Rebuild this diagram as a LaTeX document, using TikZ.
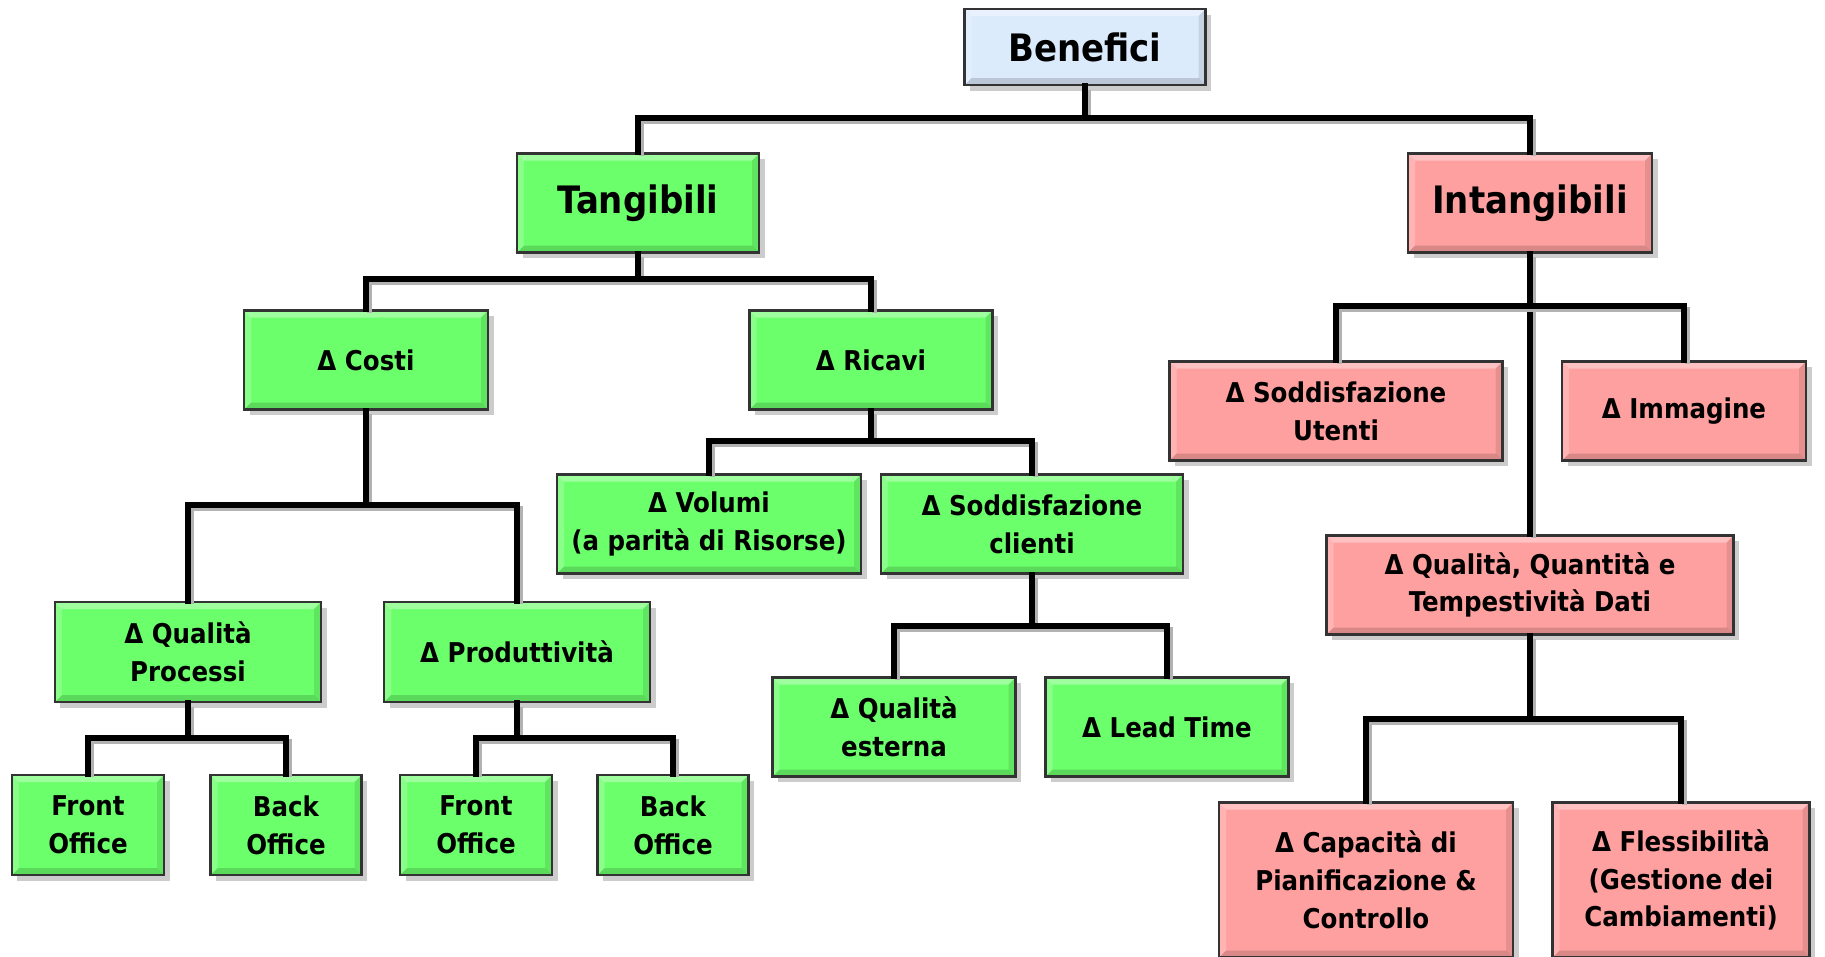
\documentclass[tikz,border=0pt]{standalone}
\usepackage{fontspec}
\setmainfont{DejaVu Sans Condensed}
\usetikzlibrary{shadows}
\definecolor{boxgreen}{RGB}{108,255,108}
\definecolor{boxpink}{RGB}{255,160,160}
\definecolor{boxblue}{RGB}{220,235,252}
\tikzset{
  bevel/.style={path picture={
      \fill[white,opacity=.35] (path picture bounding box.north west) -- (path picture bounding box.north east)
        -- ([xshift=-1.4mm,yshift=-1.4mm]path picture bounding box.north east) -- ([xshift=1.4mm,yshift=-1.4mm]path picture bounding box.north west) -- cycle;
      \fill[white,opacity=.2] (path picture bounding box.north west) -- (path picture bounding box.south west)
        -- ([xshift=1.4mm,yshift=1.4mm]path picture bounding box.south west) -- ([xshift=1.4mm,yshift=-1.4mm]path picture bounding box.north west) -- cycle;
      \fill[black,opacity=.15] (path picture bounding box.south west) -- (path picture bounding box.south east)
        -- ([xshift=-1.4mm,yshift=1.4mm]path picture bounding box.south east) -- ([xshift=1.4mm,yshift=1.4mm]path picture bounding box.south west) -- cycle;
      \fill[black,opacity=.1] (path picture bounding box.north east) -- (path picture bounding box.south east)
        -- ([xshift=-1.4mm,yshift=1.4mm]path picture bounding box.south east) -- ([xshift=-1.4mm,yshift=-1.4mm]path picture bounding box.north east) -- cycle;
    }},
  box/.style={draw=black!80, line width=0.45mm, align=center, inner sep=0pt, bevel,
    font=\fontsize{15.5}{21.5}\selectfont\bfseries,
    drop shadow={shadow xshift=1.1mm,shadow yshift=-1.1mm,opacity=.4}},
  tang/.style={box, fill=boxgreen},
  intg/.style={box, fill=boxpink},
  big/.style={font=\fontsize{21.5}{26}\selectfont\bfseries},
  conn/.style={line width=1.1mm, line cap=rect,
    preaction={draw=black!30, line width=1.1mm, transform canvas={shift={(0.7mm,-0.7mm)}}}}
}
\begin{document}
\begin{tikzpicture}[x=0.2mm,y=-0.2mm]
\useasboundingbox (0,0) rectangle (1825,956);

% bus points
\coordinate (b1) at (1085,118);
\coordinate (b2) at (638,279);
\coordinate (b3) at (366,505);
\coordinate (b4) at (188,738);
\coordinate (b5) at (517,738);
\coordinate (b6) at (871,441);
\coordinate (b7) at (1032,626);
\coordinate (b8) at (1530,306);
\coordinate (b9) at (1530,719);

\node[box, big, fill=boxblue, minimum width=48.2mm, minimum height=15.2mm] (ben) at (1085,47) {Benefici};
\node[tang, big, minimum width=48.4mm, minimum height=19.8mm] (tan) at (638,203) {Tangibili};
\node[intg, big, minimum width=48.8mm, minimum height=19.8mm] (int) at (1530,203) {Intangibili};

% Tangibili
\node[tang, minimum width=48.8mm, minimum height=19.8mm] (cos) at (366,360) {Δ Costi};
\node[tang, minimum width=48.6mm, minimum height=19.8mm] (ric) at (871,360) {Δ Ricavi};
\node[tang, minimum width=53.2mm, minimum height=20mm] (qpr) at (188,652) {Δ Qualità\\Processi};
\node[tang, minimum width=53.2mm, minimum height=20mm] (pro) at (517,652) {Δ Produttività};
\node[tang, minimum width=30.4mm, minimum height=20mm] (fo1) at (88,825) {Front\\Office};
\node[tang, minimum width=30.2mm, minimum height=20mm] (bo1) at (286,825) {Back\\Office};
\node[tang, minimum width=30.4mm, minimum height=20mm] (fo2) at (476,825) {Front\\Office};
\node[tang, minimum width=30.2mm, minimum height=20mm] (bo2) at (673,825) {Back\\Office};
\node[tang, minimum width=60.8mm, minimum height=19.8mm] (vol) at (709,524) {Δ Volumi\\(a parità di Risorse)};
\node[tang, minimum width=60.4mm, minimum height=19.8mm] (sod) at (1032,524) {Δ Soddisfazione\\clienti};
\node[tang, minimum width=48.6mm, minimum height=19.8mm] (qes) at (894,727) {Δ Qualità\\esterna};
\node[tang, minimum width=48.6mm, minimum height=19.8mm] (lea) at (1167,727) {Δ Lead Time};

% Intangibili
\node[intg, minimum width=66.6mm, minimum height=19.8mm] (sou) at (1336,411) {Δ Soddisfazione\\Utenti};
\node[intg, minimum width=48.8mm, minimum height=19.8mm] (imm) at (1684,411) {Δ Immagine};
\node[intg, minimum width=81.4mm, minimum height=19.8mm] (dat) at (1530,585) {Δ Qualità, Quantità e\\Tempestività Dati};
\node[intg, minimum width=58.8mm, minimum height=31mm] (cap) at (1366,880) {Δ Capacità di\\Pianificazione \&\\Controllo};
\node[intg, minimum width=51.4mm, minimum height=31mm] (fle) at (1681,880) {Δ Flessibilità\\(Gestione dei\\Cambiamenti)};

% connectors
\draw[conn] (ben.south) -- (b1) -| (tan.north);
\draw[conn] (b1) -| (int.north);
\draw[conn] (tan.south) -- (b2) -| (cos.north);
\draw[conn] (b2) -| (ric.north);
\draw[conn] (cos.south) -- (b3) -| (qpr.north);
\draw[conn] (b3) -| (pro.north);
\draw[conn] (qpr.south) -- (b4) -| (fo1.north);
\draw[conn] (b4) -| (bo1.north);
\draw[conn] (pro.south) -- (b5) -| (fo2.north);
\draw[conn] (b5) -| (bo2.north);
\draw[conn] (ric.south) -- (b6) -| (vol.north);
\draw[conn] (b6) -| (sod.north);
\draw[conn] (sod.south) -- (b7) -| (qes.north);
\draw[conn] (b7) -| (lea.north);
\draw[conn] (int.south) -- (dat.north);
\draw[conn] (b8) -| (sou.north);
\draw[conn] (b8) -| (imm.north);
\draw[conn] (dat.south) -- (b9) -| (cap.north);
\draw[conn] (b9) -| (fle.north);
\end{tikzpicture}
\end{document}
